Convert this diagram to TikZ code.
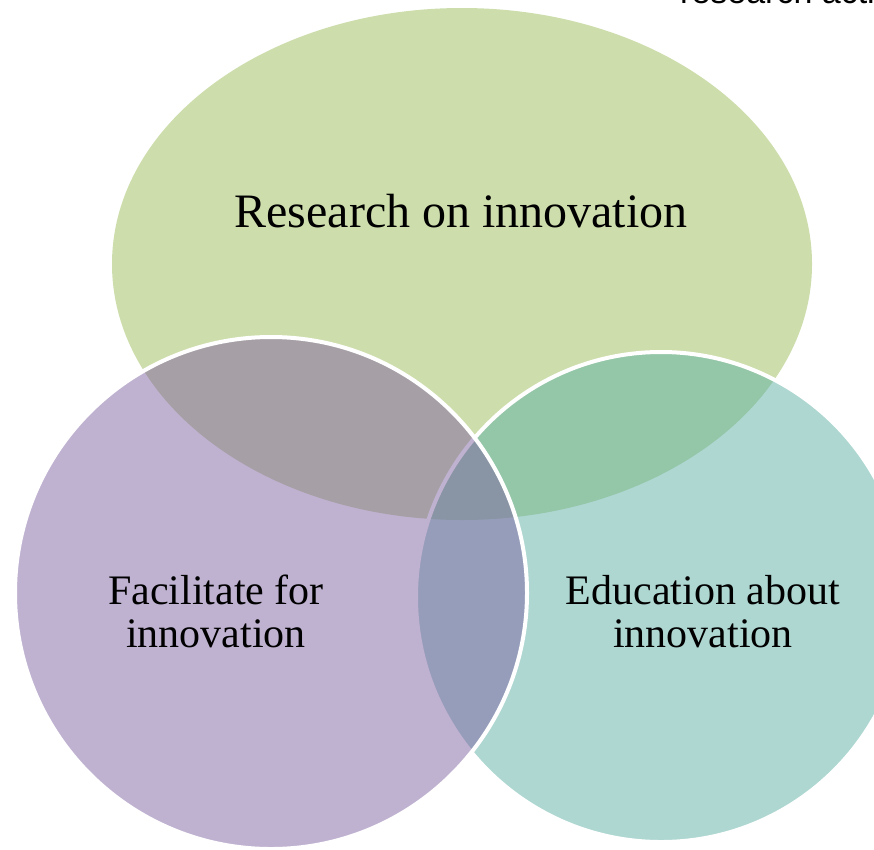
\documentclass[tikz,border=0pt]{standalone}
\usepackage{fontspec}
\setmainfont{Liberation Serif}
\newfontfamily\labelsans{Liberation Sans}
\definecolor{vgreen}{RGB}{155,187,89}
\definecolor{vpurple}{RGB}{128,100,162}
\definecolor{vteal}{RGB}{93,175,165}
\begin{document}
\begin{tikzpicture}[x=1pt,y=-1pt,
  setfill/.style={fill=#1, fill opacity=0.5, draw=white, draw opacity=1, line width=4pt},
  biglabel/.style={anchor=base, inner sep=0pt, text=black, font=\fontsize{48}{52}\selectfont},
  setlabel/.style={anchor=base, inner sep=0pt, align=center, text=black, font=\fontsize{42}{43}\selectfont}]
\useasboundingbox (0,0) rectangle (874,849);
\clip (0,0) rectangle (874,849);
% sets
\fill[vgreen, fill opacity=0.5] (462,264) ellipse [x radius=350, y radius=256];
\filldraw[setfill=vteal] (661,597) circle [radius=245];
\filldraw[setfill=vpurple] (271,593) circle [radius=256];
% labels
\node[biglabel] (research) at (461,227) {Research on innovation};
\node[setlabel] (facilitate) at (216,647) {Facilitate for\\innovation};
\node[setlabel] (education) at (703,647) {Education about\\innovation};
\node[anchor=base west, inner sep=0pt, font=\labelsans\fontsize{34}{36}\selectfont] (cut) at (680,3.5) {research acti};
\end{tikzpicture}
\end{document}
